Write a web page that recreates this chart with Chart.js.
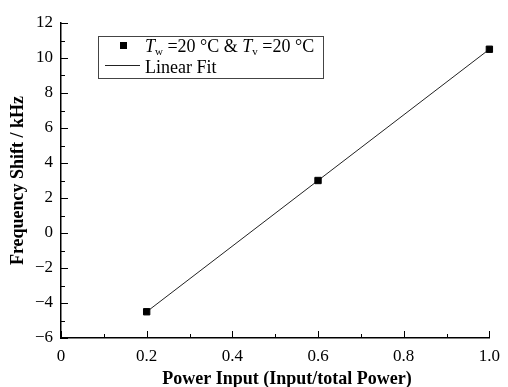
<!DOCTYPE html>
<html>
<head>
<meta charset="utf-8">
<script src="https://cdn.jsdelivr.net/npm/chart.js@4/dist/chart.umd.min.js"></script>
<style>
  html, body { margin: 0; padding: 0; background: #fff; }
  #wrap { width: 508px; height: 387px; }
</style>
</head>
<body>
<div id="wrap"><canvas id="chart"></canvas></div>
<script>
// measured points
const powerInput = [0.2, 0.6, 1.0];
const freqShift = [-4.5, 3.0, 10.5];
// linear fit end points
const fitX = [0.2, 1.0];
const fitY = [-4.5, 10.5];

const xTicks = [0, 0.2, 0.4, 0.6, 0.8, 1.0];
const yTicks = [-6, -4, -2, 0, 2, 4, 6, 8, 10, 12];

const FONT = 'Liberation Serif';
Chart.defaults.font.family = FONT;

const toPoints = (xs, ys) => xs.map((x, i) => ({ x: x, y: ys[i] }));

// inward major/minor ticks like the original plot
const tickMarks = {
  id: 'tickMarks',
  afterDraw(chart) {
    const ctx = chart.ctx;
    const xs = chart.scales.x;
    const ys = chart.scales.y;
    const area = chart.chartArea;
    ctx.save();
    ctx.strokeStyle = '#000';
    ctx.lineWidth = 1;
    for (let i = 0; i <= 10; i++) {
      const px = Math.round(xs.getPixelForValue(i / 10)) + 0.5;
      const len = i % 2 === 0 ? 7 : 4;
      ctx.beginPath();
      ctx.moveTo(px, area.bottom);
      ctx.lineTo(px, area.bottom - len);
      ctx.stroke();
    }
    for (let v = -6; v <= 12; v++) {
      const py = Math.round(ys.getPixelForValue(v)) + 0.5;
      const len = v % 2 === 0 ? 7 : 4;
      ctx.beginPath();
      ctx.moveTo(area.left, py);
      ctx.lineTo(area.left + len, py);
      ctx.stroke();
    }
    // x axis title, sits a little right of centre in the original
    ctx.fillStyle = '#000';
    ctx.font = 'bold 18px ' + FONT;
    ctx.textAlign = 'center';
    ctx.textBaseline = 'alphabetic';
    ctx.fillText('Power Input (Input/total Power)', 287, 384);
    ctx.restore();
  }
};

// boxed legend with italic T and subscripts
const fitLegend = {
  id: 'fitLegend',
  afterDraw(chart) {
    const ctx = chart.ctx;
    ctx.save();
    ctx.strokeStyle = '#444';
    ctx.lineWidth = 1;
    ctx.strokeRect(98.5, 36.5, 225, 42);

    ctx.fillStyle = '#000';
    ctx.fillRect(120, 42, 7, 7);

    ctx.beginPath();
    ctx.moveTo(105, 65.5);
    ctx.lineTo(140, 65.5);
    ctx.strokeStyle = '#222';
    ctx.stroke();

    ctx.textBaseline = 'alphabetic';
    let x = 145;
    const base = 52;
    const parts = [
      ['italic 18px ' + FONT, 'T', 0],
      ['11px ' + FONT, 'w', 3],
      ['18px ' + FONT, ' =20 °C & ', 0],
      ['italic 18px ' + FONT, 'T', 0],
      ['11px ' + FONT, 'v', 3],
      ['18px ' + FONT, ' =20 °C', 0]
    ];
    parts.forEach(p => {
      ctx.font = p[0];
      ctx.fillText(p[1], x, base + p[2]);
      x += ctx.measureText(p[1]).width;
    });
    ctx.font = '18px ' + FONT;
    ctx.fillText('Linear Fit', 145, 73);
    ctx.restore();
  }
};

const fmtMinus = v => (v < 0 ? '\u2212' + Math.abs(v) : String(v));

new Chart(document.getElementById('chart'), {
  type: 'scatter',
  data: {
    datasets: [{
      label: 'points',
      data: toPoints(powerInput, freqShift),
      pointStyle: 'rect',
      pointRadius: 4.5,
      backgroundColor: '#000',
      borderColor: '#000',
      borderWidth: 1,
      showLine: false,
      clip: false,
      order: 0
    }, {
      label: 'Linear Fit',
      data: toPoints(fitX, fitY),
      showLine: true,
      pointRadius: 0,
      borderColor: '#222',
      borderWidth: 1,
      clip: false,
      order: 1
    }]
  },
  options: {
    responsive: true,
    maintainAspectRatio: false,
    animation: false,
    layout: { padding: { top: 23, right: 15, left: 0, bottom: 0 } },
    plugins: {
      legend: { display: false },
      tooltip: { enabled: false }
    },
    scales: {
      x: {
        type: 'linear',
        min: 0,
        max: 1,
        afterBuildTicks: s => { s.ticks = xTicks.map(v => ({ value: v })); },
        afterFit: s => { s.height = 49; },
        grid: { display: false, drawTicks: false },
        border: { display: true, color: '#000', width: 1.5 },
        ticks: {
          color: '#000',
          padding: 8,
          maxRotation: 0,
          font: { family: FONT, size: 17 },
          callback: v => (v === 0 ? '0' : v.toFixed(1))
        }
      },
      y: {
        type: 'linear',
        min: -6,
        max: 12,
        afterBuildTicks: s => { s.ticks = yTicks.map(v => ({ value: v })); },
        afterFit: s => { s.width = 61; },
        grid: { display: false, drawTicks: false },
        border: { display: true, color: '#000', width: 1.5 },
        ticks: {
          color: '#000',
          padding: 8,
          font: { family: FONT, size: 17 },
          callback: v => fmtMinus(v)
        },
        title: {
          display: true,
          text: 'Frequency Shift / kHz',
          color: '#000',
          padding: { top: 8, bottom: 0 },
          font: { family: FONT, size: 18, weight: 'bold' }
        }
      }
    }
  },
  plugins: [tickMarks, fitLegend]
});
</script>
</body>
</html>
